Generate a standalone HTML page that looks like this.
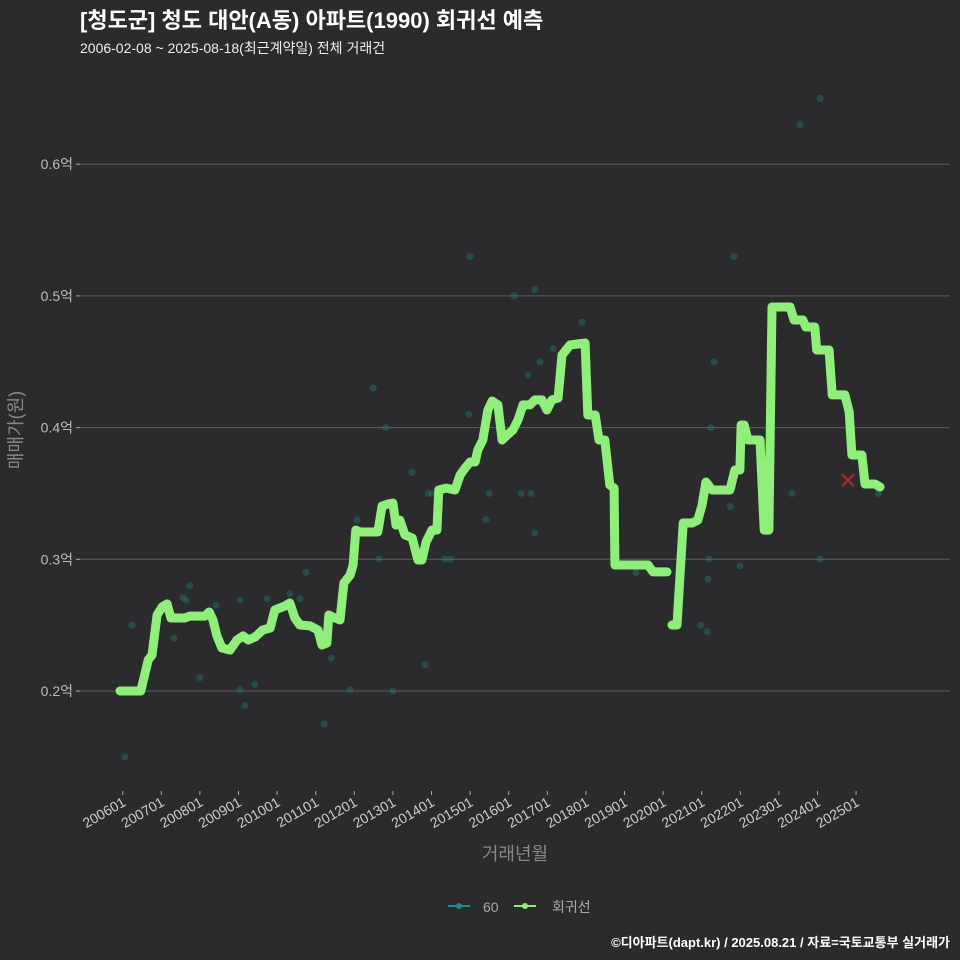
<!DOCTYPE html>
<html><head><meta charset="utf-8">
<style>
html,body{margin:0;padding:0;background:#2b2b2d;}
svg{display:block;font-family:"Liberation Sans","Noto Sans CJK KR",sans-serif;}
</style></head>
<body>
<svg id="chart" width="960" height="960" viewBox="0 0 960 960" xmlns="http://www.w3.org/2000/svg">
<rect width="960" height="960" fill="#2b2b2d"/>
<text x="80" y="28" font-size="22" font-weight="bold" fill="#ffffff">[청도군] 청도 대안(A동) 아파트(1990) 회귀선 예측</text>
<text x="80" y="53" font-size="14" fill="#eeeeee">2006-02-08 ~ 2025-08-18(최근계약일) 전체 거래건</text>
<g id="grid"></g>
<g id="yticks"></g>
<g id="xticks"></g>
<g id="points"></g>
<g id="lines"></g>
<g id="marker"></g>
<text transform="translate(22,430) rotate(-90)" text-anchor="middle" font-size="18" fill="#888888">매매가(원)</text>
<text x="515" y="860" text-anchor="middle" font-size="18" fill="#888888">거래년월</text>
<g>
<g>
<line x1="448" y1="906" x2="470" y2="906" stroke="#1f8a88" stroke-width="2"/>
<circle cx="459" cy="906" r="3" fill="#1f8a88"/>
<text x="483" y="912" font-size="14" fill="#aaaaaa">60</text></g>
<g>
<line x1="514" y1="906" x2="536" y2="906" stroke="#90ee7a" stroke-width="2"/>
<circle cx="525" cy="906" r="3" fill="#90ee7a"/>
<text x="552" y="912" font-size="14" fill="#aaaaaa">회귀선</text></g>
</g>
<text x="950" y="947" text-anchor="end" font-size="13" font-weight="bold" fill="#ffffff">©디아파트(dapt.kr) / 2025.08.21 / 자료=국토교통부 실거래가</text>
</svg>
<script>
const yTicks=[0.2,0.3,0.4,0.5,0.6];
const xTickYears=[2006,2007,2008,2009,2010,2011,2012,2013,2014,2015,2016,2017,2018,2019,2020,2021,2022,2023,2024,2025];
// regression line segments: time (decimal year), value (억)
const line1T=[2005.93,2006.47,2006.66,2006.76,2006.89,2007.02,2007.15,2007.25,2007.61,2007.74,2008.13,2008.24,2008.34,2008.44,2008.57,2008.78,2008.96,2009.12,2009.25,2009.43,2009.63,2009.82,2009.94,2010.20,2010.33,2010.46,2010.59,2010.85,2011.06,2011.16,2011.29,2011.34,2011.50,2011.63,2011.73,2011.89,2011.97,2012.04,2012.15,2012.61,2012.72,2012.87,2013.00,2013.08,2013.18,2013.31,2013.50,2013.65,2013.75,2013.86,2014.01,2014.14,2014.19,2014.38,2014.61,2014.74,2014.87,2015.00,2015.13,2015.20,2015.33,2015.46,2015.57,2015.72,2015.83,2015.96,2016.11,2016.24,2016.37,2016.55,2016.68,2016.86,2016.99,2017.12,2017.28,2017.38,2017.59,2017.98,2018.05,2018.24,2018.34,2018.49,2018.62,2018.73,2018.75,2019.61,2019.74,2020.10];
const line1V=[0.200,0.200,0.2235,0.2273,0.2577,0.2638,0.2661,0.2554,0.2554,0.2569,0.2569,0.260,0.2539,0.2418,0.2327,0.2311,0.2387,0.2418,0.2387,0.241,0.2463,0.2478,0.2615,0.2645,0.2668,0.2554,0.2501,0.2494,0.2463,0.2349,0.2364,0.2577,0.2554,0.2539,0.282,0.288,0.2957,0.3222,0.3207,0.3207,0.3405,0.342,0.3427,0.326,0.3298,0.3185,0.3162,0.2995,0.2995,0.3131,0.3222,0.3222,0.3526,0.3541,0.3526,0.364,0.3693,0.3739,0.3739,0.383,0.3906,0.4134,0.4202,0.4172,0.3906,0.3944,0.3982,0.4058,0.4172,0.4172,0.421,0.421,0.4134,0.421,0.4225,0.4551,0.4627,0.4642,0.4096,0.4096,0.3906,0.3906,0.3564,0.3541,0.2957,0.2957,0.2904,0.2904];
const line2T=[2020.23,2020.36,2020.52,2020.75,2020.90,2021.01,2021.11,2021.27,2021.73,2021.86,2021.99,2022.02,2022.10,2022.20,2022.51,2022.62,2022.74,2022.82,2023.29,2023.39,2023.62,2023.70,2023.93,2023.98,2024.30,2024.38,2024.71,2024.82,2024.89,2025.15,2025.23,2025.49,2025.62];
const line2V=[0.2501,0.2501,0.3276,0.3276,0.3298,0.3412,0.3587,0.3526,0.3526,0.3678,0.3678,0.402,0.402,0.3906,0.3906,0.3222,0.3222,0.4916,0.4916,0.4817,0.4817,0.4764,0.4764,0.4589,0.4589,0.4248,0.4248,0.4118,0.3792,0.3792,0.3572,0.3572,0.3549];
// transactions (area 60)
const ptT=[2006.06,2006.24,2007.33,2007.56,2007.64,2007.74,2008.00,2008.42,2009.04,2009.04,2009.17,2009.43,2009.74,2009.58,2010.33,2010.59,2010.75,2011.22,2011.40,2011.89,2012.07,2012.49,2012.64,2012.82,2013.00,2013.50,2013.83,2013.91,2014.01,2014.35,2014.50,2015.00,2014.97,2015.41,2015.49,2016.14,2016.32,2016.50,2016.58,2016.68,2016.68,2016.81,2017.15,2017.90,2019.30,2020.98,2021.14,2021.16,2021.19,2021.24,2021.32,2021.74,2021.84,2021.99,2023.34,2023.55,2024.07,2024.07,2025.57];
const ptV=[0.150,0.250,0.240,0.271,0.269,0.280,0.210,0.265,0.269,0.201,0.189,0.205,0.270,0.247,0.274,0.270,0.290,0.175,0.225,0.201,0.330,0.430,0.300,0.400,0.200,0.366,0.220,0.350,0.350,0.300,0.300,0.530,0.410,0.330,0.350,0.500,0.350,0.440,0.350,0.505,0.320,0.450,0.460,0.480,0.290,0.250,0.245,0.285,0.300,0.400,0.450,0.340,0.530,0.295,0.350,0.630,0.650,0.300,0.350];
const predT=[2024.79];
const predV=[0.36];

const NS="http://www.w3.org/2000/svg";
const xs=t=>122.7+(t-2006)*38.6;
const ys=v=>691-(v-0.2)*1317;
function mk(tag,attrs,parent){const e=document.createElementNS(NS,tag);for(const k in attrs)e.setAttribute(k,attrs[k]);parent.appendChild(e);return e;}
const grid=document.getElementById('grid'),yt=document.getElementById('yticks'),xt=document.getElementById('xticks');
yTicks.forEach(v=>{
  const l=mk('line',{x1:80,x2:950,y1:ys(v),y2:ys(v),stroke:'#5e5e5e','stroke-width':1},grid);
  
  
  const tk=mk('line',{x1:76,x2:80,y1:ys(v),y2:ys(v),stroke:'#aaaaaa'},yt);
  
  
  const t=mk('text',{x:73,y:ys(v)+5,'text-anchor':'end','font-size':14,fill:'#bbbbbb'},yt);
  
  
  t.textContent=v.toFixed(1)+'억';
});
xTickYears.forEach(y=>{
  const x=xs(y);
  const tk=mk('line',{x1:x,x2:x,y1:791,y2:795,stroke:'#aaaaaa'},xt);
  
  
  const t=mk('text',{x:0,y:0,'text-anchor':'end','font-size':14,fill:'#cccccc',transform:`translate(${x+4},${805}) rotate(-30)`},xt);
  
  
  t.textContent=y+'01';
});
const pg=document.getElementById('points');
ptT.forEach((t,i)=>{
  const c=mk('circle',{cx:xs(t),cy:ys(ptV[i]),r:3.5,fill:'#1f8a88','fill-opacity':0.35},pg);
  
  
});
const lg=document.getElementById('lines');
[[line1T,line1V],[line2T,line2V]].forEach(([T,V])=>{
  const d=T.map((t,i)=>(i?'L':'M')+xs(t).toFixed(1)+','+ys(V[i]).toFixed(1)).join(' ');
  const p=mk('path',{d:d,fill:'none',stroke:'#90ee7a','stroke-width':9,'stroke-linejoin':'round','stroke-linecap':'round'},lg);
  
  
});
const mg=document.getElementById('marker');
predT.forEach((t,i)=>{
  const x=xs(t),y=ys(predV[i]);
  const p=mk('path',{d:`M${x-6},${y-6}L${x+6},${y+6}M${x-6},${y+6}L${x+6},${y-6}`,stroke:'#c0282a','stroke-width':2},mg);
  
  
});
</script>
</body></html>
